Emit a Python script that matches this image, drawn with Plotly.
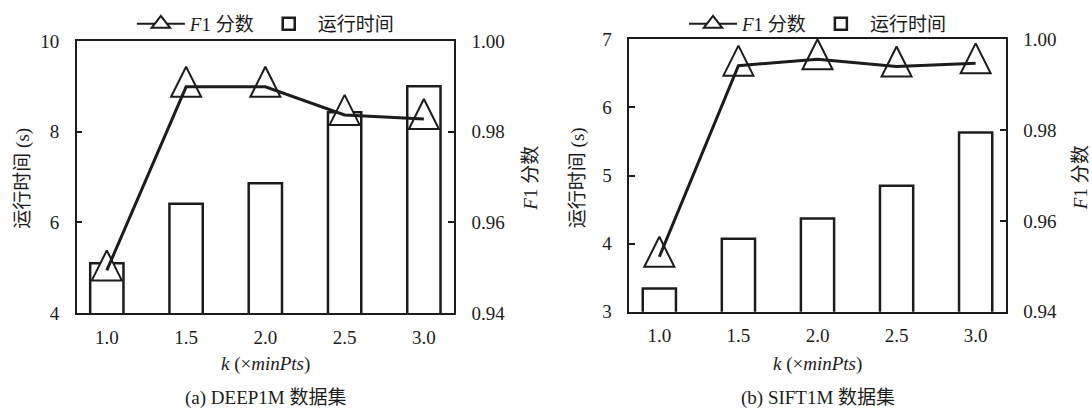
import plotly.graph_objects as go

# ---- data ----
k_labels = ["1.0", "1.5", "2.0", "2.5", "3.0"]
deep_time = [5.10, 6.41, 6.86, 8.43, 9.00]
deep_f1 = [0.9494, 0.9899, 0.9899, 0.9837, 0.9828]
sift_time = [3.34, 4.07, 4.37, 4.85, 5.63]
sift_f1 = [0.9521, 0.9942, 0.9956, 0.9940, 0.9947]

deep_time_ticks = [4, 6, 8, 10]
sift_time_ticks = [3, 4, 5, 6, 7]
f1_ticks = [0.94, 0.96, 0.98, 1.00]

W, H = 1092, 409
FONT = "Liberation Serif, Noto Sans CJK SC, serif"
FS = 19
INK = "#1c1c1c"

fig = go.Figure()

panels = [
    dict(time=deep_time, f1=deep_f1, x="x", y="y", y2="y2", legend="legend"),
    dict(time=sift_time, f1=sift_f1, x="x2", y="y3", y2="y4", legend="legend2"),
]

for p in panels:
    # legend-only entry for F1
    fig.add_trace(go.Scatter(
        x=[None], y=[None], xaxis=p["x"], yaxis=p["y2"], mode="lines+markers",
        name="<i>F</i>1 分数", legend=p["legend"], legendrank=1,
        line=dict(color=INK, width=2),
        marker=dict(symbol="triangle-up", size=16, color="white",
                    line=dict(color=INK, width=2)),
    ))
    fig.add_trace(go.Bar(
        x=k_labels, y=p["time"], xaxis=p["x"], yaxis=p["y"], width=0.42,
        name="运行时间", legend=p["legend"], legendrank=2,
        marker=dict(color="white", line=dict(color=INK, width=2.5)),
    ))
    fig.add_trace(go.Scatter(
        x=k_labels, y=p["f1"], xaxis=p["x"], yaxis=p["y2"], mode="markers",
        showlegend=False, cliponaxis=False,
        marker=dict(symbol="arrow-down", angle=180, standoff=20, size=30,
                    color="white", line=dict(color=INK, width=2)),
    ))
    fig.add_trace(go.Scatter(
        x=k_labels, y=p["f1"], xaxis=p["x"], yaxis=p["y2"], mode="lines",
        showlegend=False, cliponaxis=False,
        line=dict(color=INK, width=3),
    ))

tickfont = dict(family=FONT, size=FS, color=INK)
xcommon = dict(type="category", categoryorder="array", categoryarray=k_labels,
               range=[-0.38, 4.38], showline=True, mirror=True, linecolor=INK,
               linewidth=1.5, ticks="", showgrid=False, zeroline=False,
               tickfont=tickfont, ticklabelstandoff=6, automargin=False)
ycommon = dict(showline=True, linecolor=INK, linewidth=1.5, ticks="inside",
               ticklen=6, tickwidth=2, tickcolor=INK, showgrid=False,
               zeroline=False, tickfont=tickfont, ticklabelstandoff=12,
               automargin=False)

xl = [76.7 / W, 454 / W]
xr = [629.3 / W, 1005.7 / W]
yl = [1 - 313 / H, 1 - 41 / H]
yr = [1 - 311.7 / H, 1 - 39.3 / H]

legend_common = dict(orientation="h", xanchor="center", y=1 - 24 / H, yanchor="middle",
                     font=dict(family=FONT, size=FS, color=INK),
                     bgcolor="rgba(0,0,0,0)", itemwidth=48)

fig.update_layout(
    width=W, height=H, autosize=False,
    margin=dict(l=0, r=0, t=0, b=0, pad=0, autoexpand=False),
    paper_bgcolor="white", plot_bgcolor="white",
    font=dict(family=FONT, size=FS, color=INK),
    barmode="overlay",
    xaxis=dict(domain=xl, anchor="y", **xcommon),
    xaxis2=dict(domain=xr, anchor="y3", **xcommon),
    yaxis=dict(domain=yl, anchor="x", range=[4, 10], tickvals=deep_time_ticks, **ycommon),
    yaxis2=dict(domain=yl, anchor="x", overlaying="y", side="right", range=[0.94, 1.00],
                tickvals=f1_ticks, tickformat=".2f", **ycommon),
    yaxis3=dict(domain=yr, anchor="x2", range=[3, 7], tickvals=sift_time_ticks, **ycommon),
    yaxis4=dict(domain=yr, anchor="x2", overlaying="y3", side="right", range=[0.94, 1.00],
                tickvals=f1_ticks, tickformat=".2f", **ycommon),
    legend=dict(x=(xl[0] + xl[1]) / 2, **legend_common),
    legend2=dict(x=(xr[0] + xr[1]) / 2, **legend_common),
)

ann = []
def add_text(text, x_px, y_px, angle=0):
    ann.append(dict(text=text, x=x_px / W, y=1 - y_px / H, xref="paper", yref="paper",
                    showarrow=False, textangle=angle, xanchor="center", yanchor="middle",
                    font=dict(family=FONT, size=FS, color=INK)))

add_text("运行时间 (s)", 22.7, 178, -90)
add_text("<i>F</i>1 分数", 529.7, 178, -90)
add_text("运行时间 (s)", 577.7, 177.5, -90)
add_text("<i>F</i>1 分数", 1080.7, 177.5, -90)
add_text("<i>k</i> (×<i>minPts</i>)", (76.7 + 454) / 2, 364)
add_text("<i>k</i> (×<i>minPts</i>)", (629.3 + 1005.7) / 2, 364)
add_text("(a) DEEP1M 数据集", (76.7 + 454) / 2, 398)
add_text("(b) SIFT1M 数据集", (629.3 + 1005.7) / 2, 398)
fig.update_layout(annotations=ann)

fig.write_html("out.html", config={"displayModeBar": False, "responsive": False},
               post_script="document.body.style.margin='0';document.body.style.overflow='hidden';")
